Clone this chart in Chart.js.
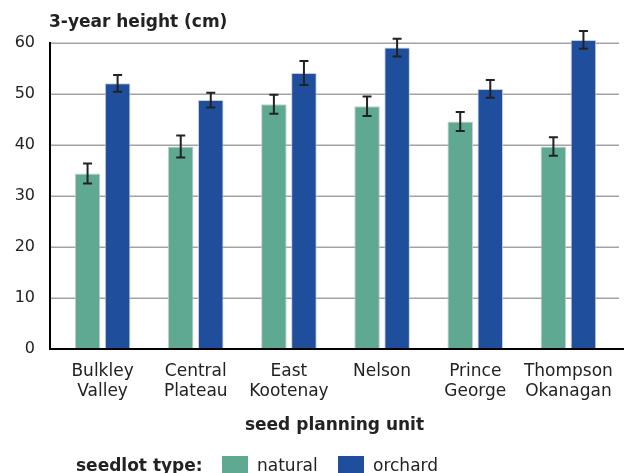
<!DOCTYPE html>
<html>
<head>
<meta charset="utf-8">
<script src="https://cdn.jsdelivr.net/npm/chart.js@4.4.1/dist/chart.umd.min.js"></script>
<style>
  html,body{margin:0;padding:0;background:#fff;}
  #wrap{width:624px;height:473px;position:relative;}
</style>
</head>
<body>
<div id="wrap"><canvas id="chart"></canvas></div>
<script>
// data
const units=[['Bulkley','Valley'],['Central','Plateau'],['East','Kootenay'],'Nelson',['Prince','George'],['Thompson','Okanagan']];
const natural=[34.4,39.7,48.0,47.6,44.6,39.7];
const naturalErr=[1.95,2.15,1.85,1.9,1.85,1.8];
const orchard=[52.1,48.8,54.1,59.1,51.0,60.6];
const orchardErr=[1.65,1.45,2.35,1.75,1.75,1.75];
const yTicks=[0,10,20,30,40,50,60];
const seriesNames=['natural','orchard'];
const seriesColors=['#5fa993','#1f4e9c'];

const FONT='"DejaVu Sans", Verdana, sans-serif';
const INK='#222';

// ── gridlines, axis lines, titles and legend ──
const frame={
  id:'frame',
  beforeDatasetsDraw(chart){
    const ctx=chart.ctx, y=chart.scales.y, a=chart.chartArea;
    ctx.save();
    ctx.strokeStyle='#a3a3a3'; ctx.lineWidth=1.5;
    yTicks.forEach(t=>{
      if(t===0) return;
      const py=Math.round(y.getPixelForValue(t))+0.25;
      ctx.beginPath(); ctx.moveTo(a.left-6,py); ctx.lineTo(a.right+4,py); ctx.stroke();
    });
    ctx.restore();
  },
  afterDatasetsDraw(chart){
    const ctx=chart.ctx, a=chart.chartArea;
    ctx.save();
    // error bars
    ctx.strokeStyle=INK; ctx.lineWidth=2;
    [naturalErr,orchardErr].forEach((errs,di)=>{
      const vals=chart.data.datasets[di].data;
      chart.getDatasetMeta(di).data.forEach((bar,i)=>{
        const yt=chart.scales.y.getPixelForValue(vals[i]+errs[i]);
        const yb=chart.scales.y.getPixelForValue(vals[i]-errs[i]);
        ctx.beginPath();
        ctx.moveTo(bar.x,yt); ctx.lineTo(bar.x,yb);
        ctx.moveTo(bar.x-4.5,yt); ctx.lineTo(bar.x+4.5,yt);
        ctx.moveTo(bar.x-4.5,yb); ctx.lineTo(bar.x+4.5,yb);
        ctx.stroke();
      });
    });
    // axes
    ctx.strokeStyle='#000'; ctx.lineWidth=2;
    ctx.beginPath();
    ctx.moveTo(a.left-6,a.top-1); ctx.lineTo(a.left-6,a.bottom);
    ctx.lineTo(chart.width,a.bottom);
    ctx.stroke();
    // titles
    ctx.fillStyle=INK;
    ctx.textBaseline='alphabetic';
    ctx.font='bold 17px '+FONT;
    ctx.textAlign='left';
    ctx.fillText('3-year height (cm)',49,27);
    ctx.textAlign='center';
    ctx.fillText('seed planning unit',(a.left-6+a.right+4)/2,430);
    // legend
    ctx.textAlign='left';
    ctx.fillText('seedlot type:',76,471);
    ctx.font='17px '+FONT;
    const lx=[222,338];
    seriesNames.forEach((n,i)=>{
      ctx.fillStyle=seriesColors[i];
      ctx.fillRect(lx[i],456,26,18);
      ctx.fillStyle=INK;
      ctx.fillText(n,lx[i]+35,471);
    });
    ctx.restore();
  }
};

new Chart(document.getElementById('chart'),{
  type:'bar',
  data:{
    labels:units,
    datasets:[
      {label:seriesNames[0],data:natural,backgroundColor:seriesColors[0],borderColor:'rgba(195,200,200,0.9)',borderWidth:1,clip:false},
      {label:seriesNames[1],data:orchard,backgroundColor:seriesColors[1],borderColor:'rgba(195,200,210,0.9)',borderWidth:1,clip:false}
    ]
  },
  plugins:[frame],
  options:{
    responsive:true,
    maintainAspectRatio:false,
    animation:false,
    layout:{padding:{top:43,right:9,bottom:0,left:0}},
    datasets:{bar:{categoryPercentage:0.645,barPercentage:0.85}},
    plugins:{legend:{display:false},tooltip:{enabled:false},title:{display:false}},
    scales:{
      x:{
        grid:{display:false},
        border:{display:false},
        ticks:{color:INK,font:{family:FONT,size:17,lineHeight:1.16},padding:5,maxRotation:0,autoSkip:false},
        afterFit(s){s.height=124;}
      },
      y:{
        min:0,max:60,
        grid:{display:false,drawTicks:false},
        border:{display:false},
        ticks:{stepSize:10,color:INK,font:{family:FONT,size:16},padding:21},
        afterFit(s){s.width=56;}
      }
    }
  }
});
</script>
</body>
</html>
